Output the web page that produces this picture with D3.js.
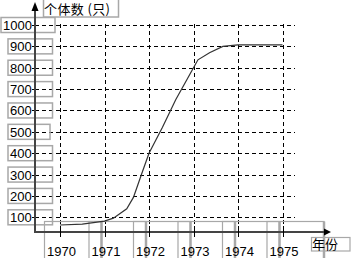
<!DOCTYPE html>
<html>
<head>
<meta charset="utf-8">
<script src="https://cdn.jsdelivr.net/npm/d3@7"></script>
<style>
  body { margin: 0; background: #fff; }
  svg { display: block; }
  text { font-family: "Liberation Sans", Arial, sans-serif; font-size: 13px; fill: #000; }
  .cjk { font-family: "Noto Sans CJK SC", sans-serif; font-size: 13px; }
</style>
</head>
<body>
<div id="chart"></div>
<script>
// population growth curve (个体数 vs 年份)
const years = [1970, 1970.5, 1971, 1971.2, 1971.5, 1971.65, 1971.84, 1972, 1972.3, 1972.6, 1973, 1973.1, 1973.36, 1973.66, 1974, 1975];
const counts = [64, 68, 82, 96, 140, 193, 306, 400, 520, 650, 800, 837, 870, 900, 907, 907];

const xTicks = [1970, 1971, 1972, 1973, 1974, 1975];
const yTicks = [100, 200, 300, 400, 500, 600, 700, 800, 900, 1000];

const width = 356, height = 258;
const axisX = 35, axisY = 232;

const svg = d3.select("#chart").append("svg")
    .attr("width", width)
    .attr("height", height);

const x = d3.scaleLinear().domain([1970, 1975]).range([60, 282.5]);
const y = d3.scaleLinear().domain([100, 1000]).range([217.3, 25]);

const gray = "#a8a8a8";

// dashed grid
svg.append("g").selectAll("line")
    .data(yTicks)
    .join("line")
    .attr("x1", axisX).attr("x2", 295)
    .attr("y1", d => Math.round(y(d)) + 0.5).attr("y2", d => Math.round(y(d)) + 0.5)
    .attr("stroke", "#000")
    .attr("stroke-dasharray", "4,3");

svg.append("g").selectAll("line")
    .data(xTicks)
    .join("line")
    .attr("x1", d => Math.round(x(d)) + 0.5).attr("x2", d => Math.round(x(d)) + 0.5)
    .attr("y1", y(1000) - 1).attr("y2", axisY)
    .attr("stroke", "#000")
    .attr("stroke-dasharray", "4,3");

// y label boxes
const yLab = svg.append("g").selectAll("g")
    .data(yTicks)
    .join("g");

yLab.append("rect")
    .attr("x", d => d === 1000 ? 1 : 8)
    .attr("y", d => y(d) - 7.5)
    .attr("width", d => d === 1000 ? 54 : (d === 500 ? 42 : 44.5))
    .attr("height", 15)
    .attr("fill", "none")
    .attr("stroke", gray)
    .attr("stroke-width", 1.5);

yLab.append("text")
    .attr("x", d => d === 1000 ? 3 : 10)
    .attr("y", d => y(d) + 5)
    .text(d => d);

// y tick marks
svg.append("g").selectAll("line")
    .data(yTicks)
    .join("line")
    .attr("x1", 32).attr("x2", 39)
    .attr("y1", d => Math.round(y(d)) + 0.5).attr("y2", d => Math.round(y(d)) + 0.5)
    .attr("stroke", "#000");

// x label boxes
const xLab = svg.append("g").selectAll("g")
    .data(xTicks)
    .join("g");

xLab.append("rect")
    .attr("x", d => x(d) - 15.5)
    .attr("y", 221.5)
    .attr("width", 57)
    .attr("height", 40)
    .attr("fill", "none")
    .attr("stroke", gray)
    .attr("stroke-width", 1.2);

xLab.append("line")
    .attr("x1", d => x(d) + 41.5).attr("x2", d => x(d) + 41.5)
    .attr("y1", 221.5).attr("y2", height)
    .attr("stroke", gray)
    .attr("stroke-width", 2.5);

xLab.append("text")
    .attr("x", d => x(d) - 13)
    .attr("y", 256)
    .text(d => d);

// axes
svg.append("line")
    .attr("x1", axisX).attr("x2", axisX)
    .attr("y1", 9).attr("y2", axisY + 1)
    .attr("stroke", "#444").attr("stroke-width", 2);
svg.append("path")
    .attr("d", `M${axisX},2 L${axisX - 3.5},11 L${axisX + 3.5},11 Z`)
    .attr("fill", "#000");

svg.append("line")
    .attr("x1", axisX - 1).attr("x2", 326)
    .attr("y1", axisY).attr("y2", axisY)
    .attr("stroke", "#444").attr("stroke-width", 2);
svg.append("path")
    .attr("d", `M331,${axisY} L324,${axisY - 3.5} L324,${axisY + 3.5} Z`)
    .attr("fill", "#000");

// x tick marks
svg.append("g").selectAll("line")
    .data(xTicks)
    .join("line")
    .attr("x1", d => Math.round(x(d)) + 0.5).attr("x2", d => Math.round(x(d)) + 0.5)
    .attr("y1", 226).attr("y2", 237)
    .attr("stroke", "#000");

// curve
const line = d3.line()
    .x(d => x(d[0]))
    .y(d => y(d[1]))
    .curve(d3.curveLinear);

svg.append("path")
    .datum(d3.zip(years, counts))
    .attr("d", line)
    .attr("fill", "none")
    .attr("stroke", "#333")
    .attr("stroke-width", 1.2);

// axis titles
svg.append("rect")
    .attr("x", 43.5).attr("y", -1)
    .attr("width", 75).attr("height", 18)
    .attr("fill", "none").attr("stroke", gray).attr("stroke-width", 1.5);
svg.append("text")
    .attr("class", "cjk")
    .attr("x", 44)
    .attr("y", 14)
    .attr("textLength", 66)
    .text("个体数 (只)");

svg.append("rect")
    .attr("x", 311.5).attr("y", 237.5)
    .attr("width", 38.5).attr("height", 13.5)
    .attr("fill", "none").attr("stroke", gray).attr("stroke-width", 1.2);
svg.append("text")
    .attr("class", "cjk")
    .attr("x", 312)
    .attr("y", 249)
    .text("年份");
</script>
</body>
</html>
